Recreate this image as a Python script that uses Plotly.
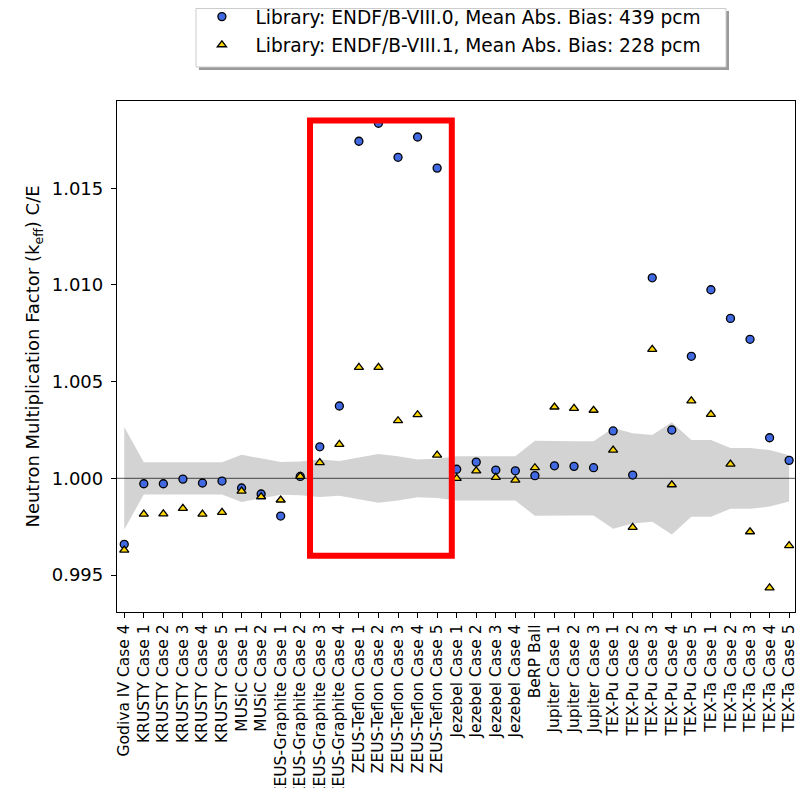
import plotly.graph_objects as go

cases = [
    "Godiva IV Case 4",
    "KRUSTY Case 1", "KRUSTY Case 2", "KRUSTY Case 3", "KRUSTY Case 4", "KRUSTY Case 5",
    "MUSiC Case 1", "MUSiC Case 2",
    "ZEUS-Graphite Case 1", "ZEUS-Graphite Case 2", "ZEUS-Graphite Case 3", "ZEUS-Graphite Case 4",
    "ZEUS-Teflon Case 1", "ZEUS-Teflon Case 2", "ZEUS-Teflon Case 3", "ZEUS-Teflon Case 4", "ZEUS-Teflon Case 5",
    "Jezebel Case 1", "Jezebel Case 2", "Jezebel Case 3", "Jezebel Case 4",
    "BeRP Ball",
    "Jupiter Case 1", "Jupiter Case 2", "Jupiter Case 3",
    "TEX-Pu Case 1", "TEX-Pu Case 2", "TEX-Pu Case 3", "TEX-Pu Case 4", "TEX-Pu Case 5",
    "TEX-Ta Case 1", "TEX-Ta Case 2", "TEX-Ta Case 3", "TEX-Ta Case 4", "TEX-Ta Case 5",
]

ce_viii0 = [0.99659, 0.99972, 0.99972, 0.99996, 0.99976, 0.99986, 0.99950, 0.99919,
            0.99805, 1.00010, 1.00163, 1.00374, 1.01743, 1.01836, 1.01660, 1.01765,
            1.01604, 1.00047, 1.00084, 1.00043, 1.00039, 1.00014, 1.00065, 1.00062,
            1.00055, 1.00245, 1.00017, 1.01037, 1.00250, 1.00631, 1.00975, 1.00827,
            1.00719, 1.00210, 1.00093]

ce_viii1 = [0.99629, 0.99815, 0.99816, 0.99845, 0.99815, 0.99824, 0.99934, 0.99905,
            0.99888, 1.00010, 1.00081, 1.00176, 1.00574, 1.00574, 1.00298, 1.00329,
            1.00120, 1.00000, 1.00039, 1.00005, 0.99991, 1.00055, 1.00369, 1.00362,
            1.00352, 1.00146, 0.99747, 1.00667, 0.99967, 1.00401, 1.00331, 1.00074,
            0.99724, 0.99434, 0.99652]

exp_unc = [0.00265, 0.00083, 0.00083, 0.00083, 0.00083, 0.00083, 0.00122, 0.00103,
           0.00085, 0.00087, 0.00097, 0.00090, 0.00108, 0.00126, 0.00114, 0.00098,
           0.00101, 0.00114, 0.00114, 0.00114, 0.00114, 0.00194, 0.00192, 0.00192,
           0.00192, 0.00260, 0.00233, 0.00224, 0.00290, 0.00198, 0.00198, 0.00157,
           0.00157, 0.00146, 0.00120]

legend_names = [
    "Library: ENDF/B-VIII.0, Mean Abs. Bias: 439 pcm",
    "Library: ENDF/B-VIII.1, Mean Abs. Bias: 228 pcm",
]

y_ticks = [0.995, 1.000, 1.005, 1.010, 1.015]
highlight_x = [9.5, 16.75]
highlight_y = [0.996, 1.0185]

FONT = "DejaVu Sans"
idx = list(range(len(cases)))
upper = [1 + u for u in exp_unc]
lower = [1 - u for u in exp_unc]

# figure geometry (page has an 8px body margin on every side)
W, H = 789, 780
ML, MR, MT, MB = 109, 2, 93, 176
PW = W - ML - MR
PH = H - MT - MB


def px(fx):
    return (fx - ML) / PW


def py(fy):
    return (H - MB - fy) / PH


fig = go.Figure()
fig.add_trace(go.Scatter(x=idx, y=lower, mode="lines", line=dict(width=0),
                         showlegend=False, hoverinfo="skip"))
fig.add_trace(go.Scatter(x=idx, y=upper, mode="lines", line=dict(width=0),
                         fill="tonexty", fillcolor="#d3d3d3",
                         showlegend=False, hoverinfo="skip"))
fig.add_trace(go.Scatter(x=[-1, len(cases)], y=[1.0, 1.0], mode="lines",
                         line=dict(color="rgba(0,0,0,0.55)", width=1.3),
                         showlegend=False, hoverinfo="skip"))
fig.add_trace(go.Scatter(x=idx, y=ce_viii0, mode="markers", name=legend_names[0],
                         legendgroup="a",
                         marker=dict(symbol="circle", size=8, color="royalblue",
                                     line=dict(color="black", width=1.3))))
fig.add_trace(go.Scatter(x=idx, y=ce_viii1, mode="markers", name=legend_names[1],
                         legendgroup="b",
                         marker=dict(symbol="triangle-up", size=8, color="gold",
                                     line=dict(color="black", width=1.3))))

fig.add_shape(type="rect", xref="x", yref="y",
              x0=highlight_x[0], x1=highlight_x[1], y0=highlight_y[0], y1=highlight_y[1],
              line=dict(color="red", width=6), layer="above")

# legend frame: shadow + white box
fig.add_shape(type="rect", xref="paper", yref="paper",
              x0=px(191), x1=px(721), y0=py(62), y1=py(3),
              fillcolor="#9a9a9a", line=dict(width=0), layer="below")
fig.add_shape(type="rect", xref="paper", yref="paper",
              x0=px(188), x1=px(718), y0=py(59), y1=py(0.5),
              fillcolor="white", line=dict(color="#cccccc", width=1), layer="below")

fig.update_layout(
    width=W, height=H,
    margin=dict(l=ML, r=MR, t=MT, b=MB, autoexpand=False),
    paper_bgcolor="white", plot_bgcolor="white",
    font=dict(family=FONT, color="black", size=18),
    showlegend=True,
    legend=dict(x=px(180.4), xanchor="left", y=py(-10), yanchor="top",
                bgcolor="rgba(0,0,0,0)", borderwidth=0, itemwidth=57,
                font=dict(size=18.6), tracegroupgap=1, traceorder="grouped"),
)
fig.update_xaxes(
    range=[-0.37, 34.3], tickmode="array", tickvals=idx, ticktext=cases,
    tickangle=-90, tickfont=dict(size=15.5), showgrid=False, zeroline=False,
    showline=True, mirror=True, linecolor="black", linewidth=1.3,
    ticks="outside", ticklen=5, tickwidth=1.3, tickcolor="black",
    automargin=False, ticklabeloverflow="allow",
)
fig.update_yaxes(
    range=[0.99309, 1.01951], tickmode="array", tickvals=y_ticks,
    ticktext=[f"{v:.3f}" for v in y_ticks], tickfont=dict(size=18),
    showgrid=False, zeroline=False,
    showline=True, mirror=True, linecolor="black", linewidth=1.3,
    ticks="outside", ticklen=5, tickwidth=1.3, tickcolor="black",
    ticklabelstandoff=4, automargin=False,
    title=dict(text="Neutron Multiplication Factor (k<sub>eff</sub>) C/E",
               font=dict(size=18), standoff=7),
)

fig.write_html("out.html")
